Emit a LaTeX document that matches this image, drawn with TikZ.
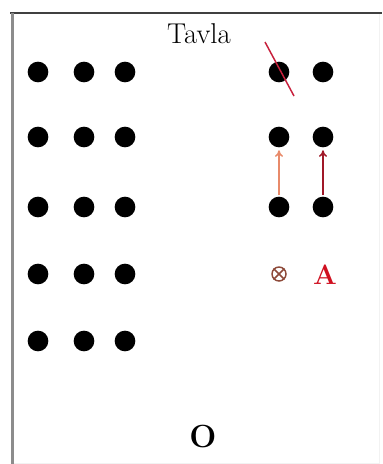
\documentclass[tikz,border=0pt]{standalone}
\usetikzlibrary{arrows.meta}
\definecolor{slashred}{HTML}{C8203C}
\definecolor{arrowlight}{HTML}{E88A6A}
\definecolor{arrowdark}{HTML}{A01828}
\definecolor{otimescol}{HTML}{8E4A3A}
\definecolor{aRed}{HTML}{D01020}
\begin{document}
\begin{tikzpicture}[x=0.75pt,y=-0.75pt,
  seat/.style={circle,fill=black,minimum size=15.5pt,inner sep=0pt},
  moveline/.style={line width=1.1pt,-{To[length=5pt,width=6pt]},shorten >=2pt,shorten <=1pt},
  lbl/.style={inner sep=0pt},
  emptyseat/.style={circle,draw=otimescol,line width=1.1pt,minimum size=10.5pt,inner sep=0pt}]
\useasboundingbox (0,0) rectangle (382,464);
\fill[white] (0,0) rectangle (382,464);
% frame
\draw[line width=1.4pt,color=black!75] (10,13) -- (382,13);
\draw[line width=2.4pt,color=black!45] (12.5,13) -- (12.5,464);
\draw[line width=0.5pt,color=black!5] (379,14) -- (379,464);
\draw[line width=0.5pt,color=black!5] (14,463) -- (379,463);
% title
\node[lbl,anchor=base] (tavla) at (199,43) {\fontsize{21.5}{24}\selectfont Tavla};
% left block seats
\foreach \r/\y in {1/72,2/137,3/207,4/274,5/341}{
  \node[seat] (l\r a) at (38,\y) {};
  \node[seat] (l\r b) at (84,\y) {};
  \node[seat] (l\r c) at (125,\y) {};
}
% right block seats
\foreach \r/\y in {1/72,2/137,3/207}{
  \node[seat] (r\r a) at (279,\y) {};
  \node[seat] (r\r b) at (323,\y) {};
}
% slash
\coordinate (s1) at (265,42);
\coordinate (s2) at (294,96);
\draw[slashred,line width=1.1pt] (s1) -- (s2);
% arrows
\draw[moveline,arrowlight] (r3a.north) -- (r2a.south);
\draw[moveline,arrowdark] (r3b.north) -- (r2b.south);
% empty seat symbol
\node[emptyseat] (ox) at (279,274) {};
\draw[otimescol,line width=1.1pt] (ox.north west) -- (ox.south east);
\draw[otimescol,line width=1.1pt] (ox.north east) -- (ox.south west);
\node[lbl,anchor=base,text=aRed] (A) at (325,284) {\fontsize{21}{22}\selectfont\bfseries A};
% bottom
\node[lbl,anchor=base] (O) at (203,447) {\fontsize{24}{26}\selectfont\bfseries O};
\end{tikzpicture}
\end{document}
